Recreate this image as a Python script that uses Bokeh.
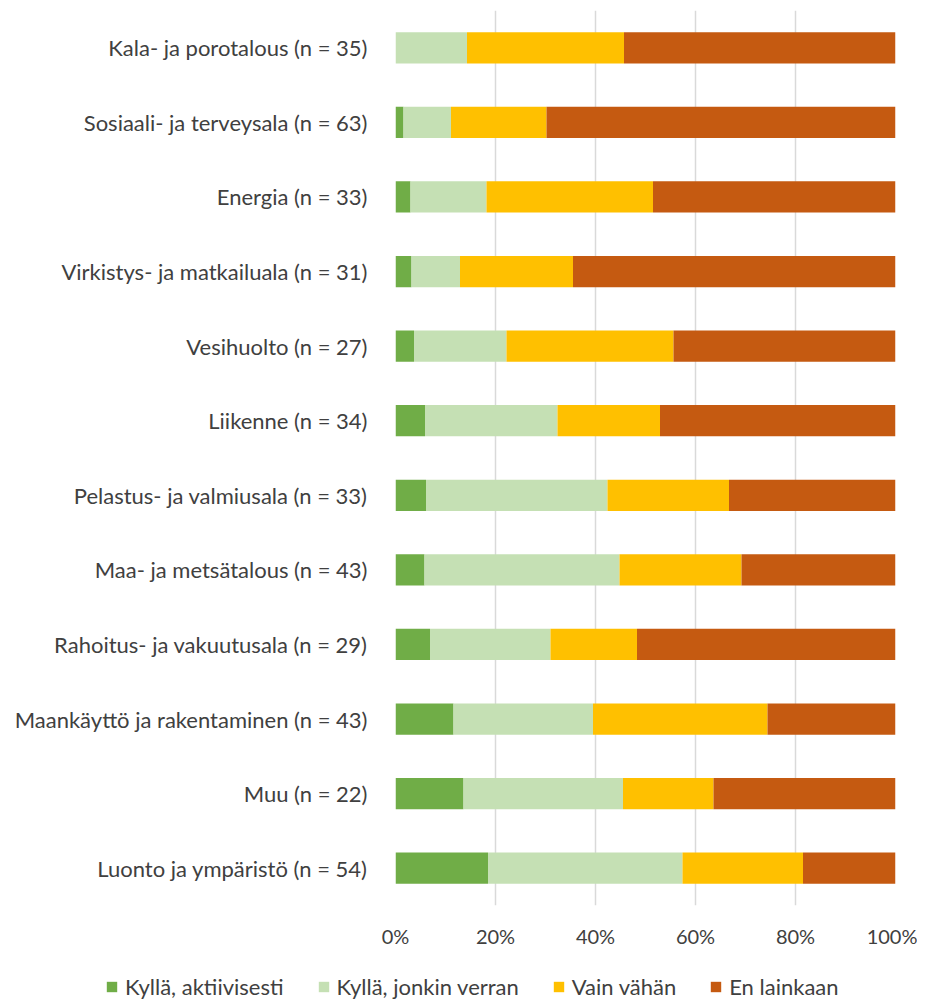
from bokeh.plotting import figure
from bokeh.layouts import column, row
from bokeh.models import FactorRange, Range1d, Legend, LegendItem, PrintfTickFormatter, FixedTicker
from bokeh.embed import file_html
from bokeh.resources import INLINE

categories = [
    "Kala- ja porotalous (n = 35)",
    "Sosiaali- ja terveysala (n = 63)",
    "Energia (n = 33)",
    "Virkistys- ja matkailuala (n = 31)",
    "Vesihuolto (n = 27)",
    "Liikenne (n = 34)",
    "Pelastus- ja valmiusala (n = 33)",
    "Maa- ja metsätalous (n = 43)",
    "Rahoitus- ja vakuutusala (n = 29)",
    "Maankäyttö ja rakentaminen (n = 43)",
    "Muu (n = 22)",
    "Luonto ja ympäristö (n = 54)",
]
series_names = ["Kyllä, aktiivisesti", "Kyllä, jonkin verran", "Vain vähän", "En lainkaan"]
kylla_aktiivisesti = [0.0, 1.6, 3.0, 3.2, 3.7, 5.9, 6.1, 5.8, 6.9, 11.6, 13.6, 18.5]
kylla_jonkin_verran = [14.3, 9.5, 15.2, 9.7, 18.5, 26.5, 36.3, 39.0, 24.1, 27.9, 31.9, 38.9]
vain_vahan = [31.4, 19.1, 33.3, 22.6, 33.4, 20.5, 24.3, 24.4, 17.3, 34.9, 18.1, 24.1]
en_lainkaan = [54.3, 69.8, 48.5, 64.5, 44.4, 47.1, 33.3, 30.8, 51.7, 25.6, 36.4, 18.5]
x_ticks = [0, 20, 40, 60, 80, 100]

colors = ["#70ad47", "#c5e0b4", "#ffc000", "#c55a11"]
keys = ["a", "b", "c", "d"]
FONT = "Lato"
TXT = "#404040"

data = dict(cat=categories, a=kylla_aktiivisesti, b=kylla_jonkin_verran, c=vain_vahan, d=en_lainkaan)

p = figure(width=917, height=955, output_backend="svg", toolbar_location=None,
           y_range=FactorRange(*reversed(categories), range_padding=0),
           x_range=Range1d(0, 100),
           min_border_left=395, min_border_right=22, min_border_top=10, min_border_bottom=50)
p.outline_line_color = None
p.background_fill_color = "white"
p.border_fill_color = "white"

renderers = p.hbar_stack(keys, y="cat", height=0.42, color=colors, line_color=None, source=data)

p.xgrid.ticker = FixedTicker(ticks=x_ticks)
p.xgrid.grid_line_color = "#d9d9d9"
p.xgrid.grid_line_width = 1.5
p.ygrid.grid_line_color = None

p.xaxis.ticker = FixedTicker(ticks=x_ticks)
p.xaxis.formatter = PrintfTickFormatter(format="%d%%")
p.xaxis.axis_line_color = None
p.xaxis.major_tick_line_color = None
p.xaxis.minor_tick_line_color = None
p.xaxis.major_label_standoff = 12
p.xaxis.major_label_text_font = FONT
p.xaxis.major_label_text_font_size = "20px"
p.xaxis.major_label_text_color = TXT

p.yaxis.axis_line_color = None
p.yaxis.major_tick_line_color = None
p.yaxis.minor_tick_line_color = None
p.yaxis.major_label_standoff = 22
p.yaxis.major_label_text_font = FONT
p.yaxis.major_label_text_font_size = "22px"
p.yaxis.major_label_text_color = TXT

# legend in its own strip below the chart
q = figure(width=917, height=45, output_backend="svg", toolbar_location=None,
           x_range=Range1d(0, 1), y_range=Range1d(0, 1),
           min_border_left=0, min_border_right=0, min_border_top=0, min_border_bottom=0)
q.axis.visible = False
q.grid.grid_line_color = None
q.outline_line_color = None
q.background_fill_color = "white"
q.border_fill_color = "white"
dummies = [q.hbar(y=[5], left=[5], right=[6], height=0.5, color=c, line_color=None) for c in colors]
items = [LegendItem(label=n, renderers=[r]) for n, r in zip(series_names, dummies)]
legend = Legend(items=items, orientation="horizontal", location=(105, 0),
                glyph_width=13, glyph_height=13, label_standoff=7, spacing=33,
                padding=0, margin=0, border_line_color=None, background_fill_alpha=0,
                label_text_font=FONT, label_text_font_size="22px", label_text_color=TXT)
q.add_layout(legend, "center")

layout = column(p, row(q), spacing=0)
open("out.html", "w").write(file_html(layout, INLINE))
